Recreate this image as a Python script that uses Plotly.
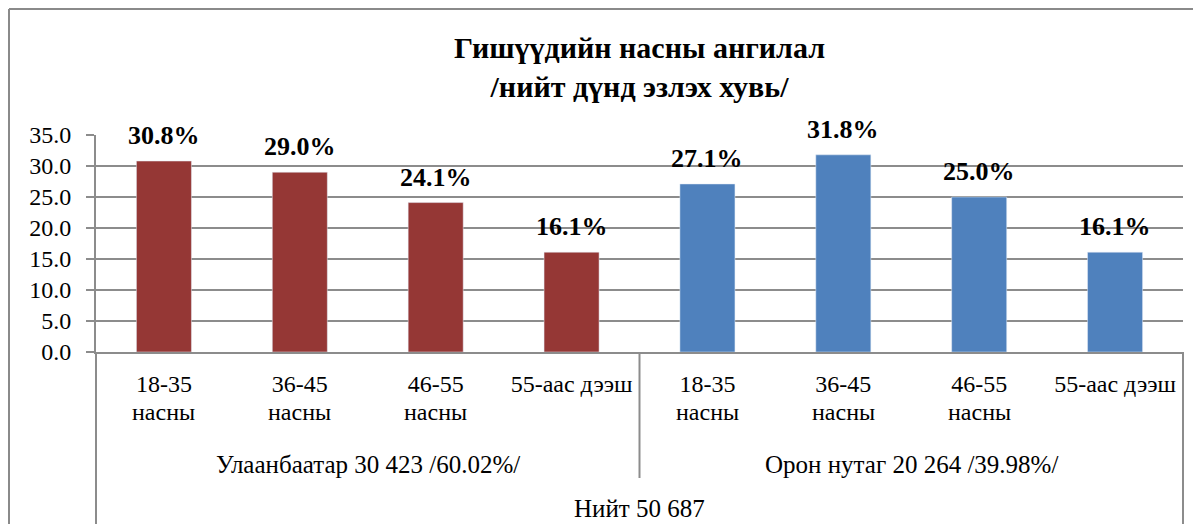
import plotly.graph_objects as go

# ---- data ----
age_line1 = ["18-35", "36-45", "46-55", "55-аас дээш"]
age_line2 = ["насны", "насны", "насны", ""]
groups = ["Улаанбаатар 30 423 /60.02%/", "Орон нутаг 20 264 /39.98%/"]
total_label = "Нийт 50 687"
ub_values = [30.8, 29.0, 24.1, 16.1]
rural_values = [27.1, 31.8, 25.0, 16.1]
title_lines = ["Гишүүдийн насны ангилал", "/нийт дүнд эзлэх хувь/"]
y_ticks = [0, 5, 10, 15, 20, 25, 30, 35]

RED = "#953735"
BLUE = "#4F81BD"
GRID = "#8c8c8c"
FONT = "Liberation Serif, Times New Roman, DejaVu Serif, serif"

OFF = 8  # page body margin
W, H = 1201 - 2 * OFF, 532 - 2 * OFF
L = 96 - OFF
T = 135 - OFF
R = W - (1183 - OFF)
B = H - (352 - OFF)
PW = W - L - R
PH = H - T - B


def py2paper(py):
    return (352 - py) / PH


def px2paper(px):
    return ((px - OFF) - L) / PW


n = len(age_line1)
x_ub = list(range(n))
x_rural = list(range(n, 2 * n))

fig = go.Figure()
fig.add_trace(go.Bar(x=x_ub, y=ub_values, marker_color=RED, name=groups[0],
                     hoverinfo="y"))
fig.add_trace(go.Bar(x=x_rural, y=rural_values, marker_color=BLUE, name=groups[1],
                     hoverinfo="y"))

# value labels
for xs, vs in ((x_ub, ub_values), (x_rural, rural_values)):
    for xv, v in zip(xs, vs):
        fig.add_annotation(x=xv, y=v, text=f"<b>{v:.1f}%</b>", showarrow=False,
                           yanchor="bottom", yshift=9,
                           font=dict(family=FONT, size=26, color="black"))

# second line of category labels
for xv, t in zip(x_ub + x_rural, age_line2 + age_line2):
    if t:
        fig.add_annotation(x=xv, y=py2paper(412), yref="paper", text=t, showarrow=False,
                           yanchor="middle", font=dict(family=FONT, size=24, color="black"))

# group labels
fig.add_annotation(x=(x_ub[0] + x_ub[-1]) / 2, y=py2paper(465), yref="paper", text=groups[0],
                   showarrow=False, yanchor="middle",
                   font=dict(family=FONT, size=25, color="black"))
fig.add_annotation(x=(x_rural[0] + x_rural[-1]) / 2, y=py2paper(465), yref="paper", text=groups[1],
                   showarrow=False, yanchor="middle",
                   font=dict(family=FONT, size=25, color="black"))
fig.add_annotation(x=(x_ub[0] + x_rural[-1]) / 2, y=py2paper(509), yref="paper", text=total_label,
                   showarrow=False, yanchor="middle",
                   font=dict(family=FONT, size=25, color="black"))

shapes = [
    # outer chart border: top and left edges (others fall outside the picture)
    dict(type="line", xref="paper", yref="paper", x0=px2paper(9), x1=px2paper(1201),
         y0=py2paper(9), y1=py2paper(9), line=dict(color="#8a8a8a", width=2)),
    dict(type="line", xref="paper", yref="paper", x0=px2paper(9), x1=px2paper(9),
         y0=py2paper(9), y1=py2paper(532), line=dict(color="#8a8a8a", width=2)),
    # category group dividers
    dict(type="line", xref="paper", yref="paper", x0=0, x1=0, y0=0, y1=py2paper(526),
         line=dict(color=GRID, width=2)),
    dict(type="line", xref="x", yref="paper", x0=n - 0.5, x1=n - 0.5, y0=0, y1=py2paper(478),
         line=dict(color=GRID, width=2)),
    dict(type="line", xref="paper", yref="paper", x0=1, x1=1, y0=0, y1=py2paper(526),
         line=dict(color=GRID, width=2)),
]

fig.update_layout(
    width=W, height=H,
    margin=dict(l=L, r=R, t=T, b=B),
    paper_bgcolor="white", plot_bgcolor="white",
    showlegend=False,
    bargap=0.595,
    title=dict(text="<b>" + "<br>".join(title_lines) + "</b>", x=0.5, xanchor="center",
               xref="paper", y=1 - 50 / H, yanchor="middle",
               font=dict(family=FONT, size=30, color="black")),
    font=dict(family=FONT, size=24, color="black"),
    shapes=shapes,
)
fig.update_xaxes(range=[-0.5, 2 * n - 0.5], tickvals=x_ub + x_rural,
                 ticktext=age_line1 + age_line1, ticks="", showgrid=False,
                 showline=True, linecolor=GRID, linewidth=2,
                 ticklabelstandoff=9,
                 tickfont=dict(family=FONT, size=24, color="black"), zeroline=False)
fig.update_yaxes(range=[0, 35], tickvals=y_ticks, tickformat=".1f", showgrid=True,
                 gridcolor=GRID, gridwidth=2, showline=True, linecolor=GRID, linewidth=2,
                 ticks="outside", ticklen=8, tickwidth=2, tickcolor=GRID,
                 ticklabelstandoff=10, zeroline=False,
                 tickfont=dict(family=FONT, size=24, color="black"))

for tr in fig.data:
    tr.cliponaxis = False

fig.write_html("out.html")
